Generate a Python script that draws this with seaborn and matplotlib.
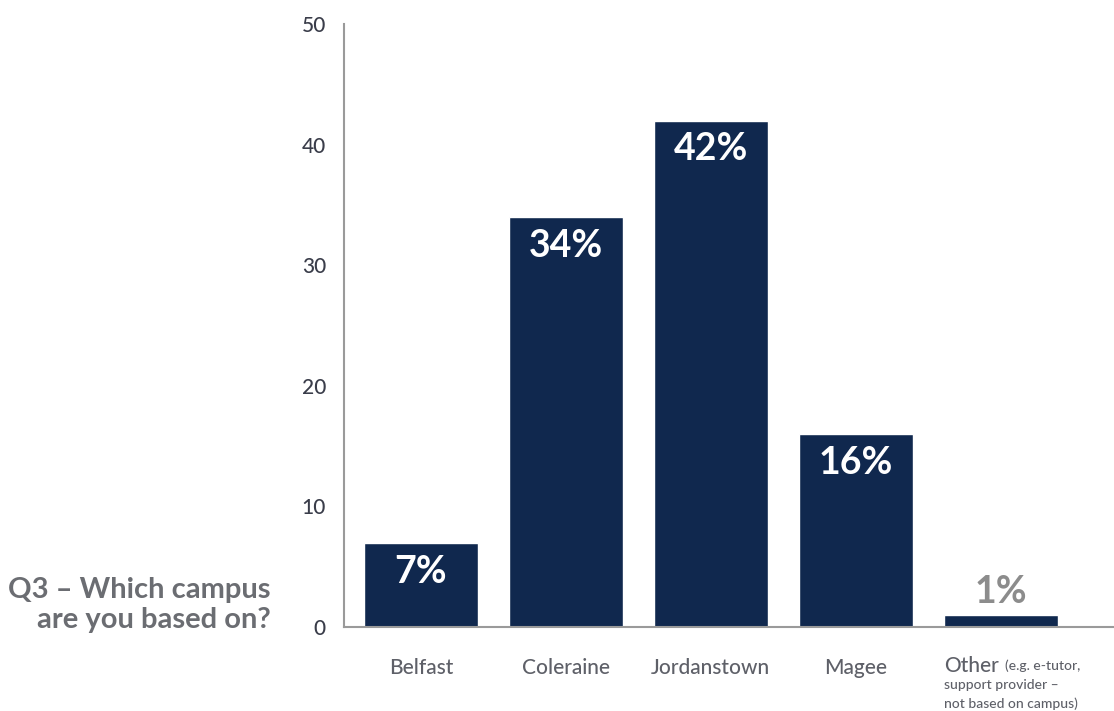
import matplotlib
matplotlib.use("Agg")
import matplotlib.pyplot as plt
import seaborn as sns
import pandas as pd

# Survey responses: share of respondents by campus (%)
campuses = ["Belfast", "Coleraine", "Jordanstown", "Magee", "Other"]
shares = [7, 34, 42, 16, 1]
value_labels = ["7%", "34%", "42%", "16%", "1%"]
y_ticks = [0, 10, 20, 30, 40, 50]
other_note = "(e.g. e-tutor,"
other_note_lines = ["support provider \u2013", "not based on campus)"]
question = "Q3 \u2013 Which campus\nare you based on?"

NAVY = "#10284e"
AXIS_GREY = "#9a9a9a"
TEXT_GREY = "#5e6068"
TITLE_GREY = "#6b6d72"
BAR_WIDTH = 0.786

sns.set_style("white")
plt.rcParams["font.family"] = ["Lato", "DejaVu Sans"]

df = pd.DataFrame({"campus": campuses, "share": shares})

fig = plt.figure(figsize=(11.14, 7.11), dpi=100)
ax = fig.add_axes([0.3088, 0.1181, 0.6912, 0.8481])

sns.barplot(data=df, x="campus", y="share", color=NAVY, saturation=1,
            width=BAR_WIDTH, ax=ax)

ax.set_xlim(-0.53, 4.78)
ax.set_ylim(0, 50)
ax.set_yticks(y_ticks)
ax.set_yticklabels([str(t) for t in y_ticks], fontsize=15, color="#3a3d4a",
                   fontweight="medium")
ax.tick_params(axis="y", direction="in", length=15, width=1.5,
               color=AXIS_GREY, pad=13)
ax.tick_params(axis="x", length=0, pad=22)

ax.set_xticks(range(len(campuses)))
ax.set_xticklabels(campuses[:-1] + [""], fontsize=15, color=TEXT_GREY,
                   fontweight="medium")
ax.set_xlabel("")
ax.set_ylabel("")

for side in ["top", "right"]:
    ax.spines[side].set_visible(False)
for side in ["left", "bottom"]:
    ax.spines[side].set_color(AXIS_GREY)
    ax.spines[side].set_linewidth(1.5)

# value labels inside (or above, for the tiny bar) each bar
for i, (v, lab) in enumerate(zip(shares, value_labels)):
    if v >= 5:
        ax.text(i, v - 2.4, lab, ha="center", va="center", color="white",
                fontsize=27, fontweight="bold")
    else:
        ax.text(i, v + 0.5, lab, ha="center", va="bottom", color="#8c8c8c",
                fontsize=27, fontweight="bold")

# label for the "Other" category with its explanatory note
trans = ax.get_xaxis_transform()
x_left = 4 - BAR_WIDTH / 2
ax.text(x_left, -0.064, "Other", transform=trans, ha="left", va="center",
        fontsize=15, color=TEXT_GREY, fontweight="medium")
ax.text(x_left + 0.42, -0.064, other_note, transform=trans, ha="left",
        va="center", fontsize=10, color=TEXT_GREY, fontweight="medium")
for k, line in enumerate(other_note_lines):
    ax.text(x_left, -0.096 - 0.031 * k, line, transform=trans, ha="left",
            va="center", fontsize=10, color=TEXT_GREY, fontweight="medium")

fig.text(0.243, 0.149, question, ha="right", va="center", fontsize=21,
         fontweight="bold", color=TITLE_GREY, linespacing=1.15)

fig.savefig("out.png", dpi=100)
